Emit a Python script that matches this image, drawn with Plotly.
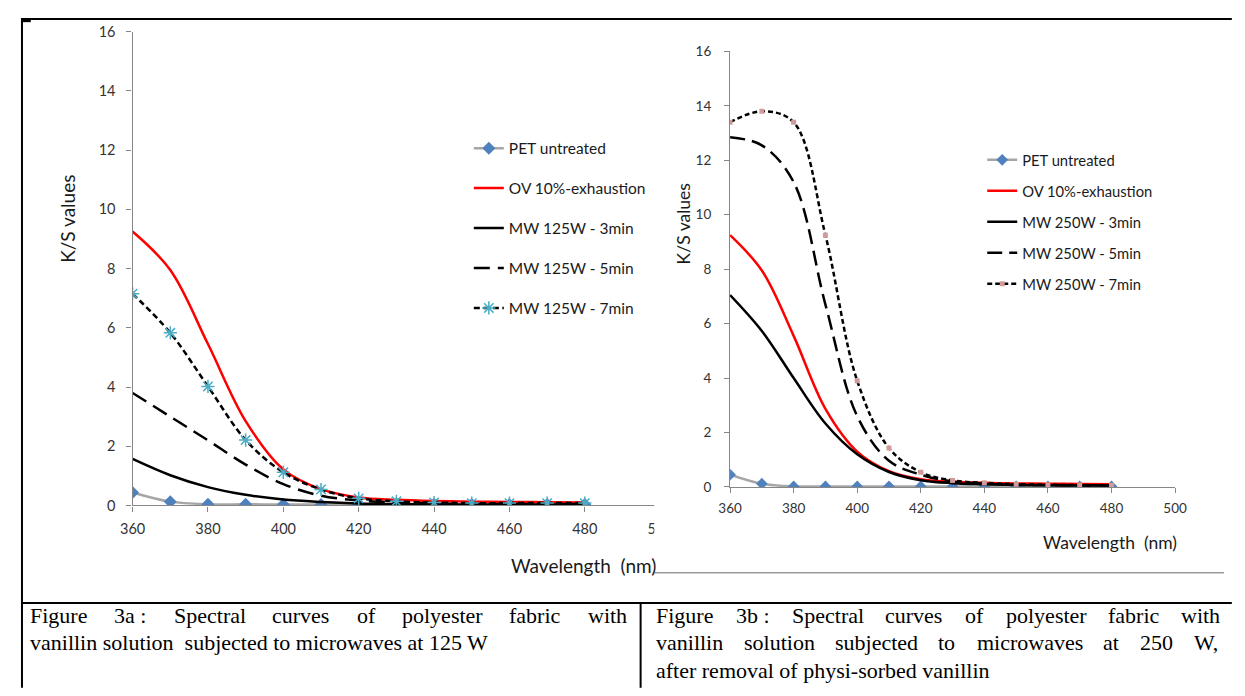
import plotly.graph_objects as go

# ---------------- data ----------------
wavelength = [360, 370, 380, 390, 400, 410, 420, 430, 440, 450, 460, 470, 480]

# Figure 3a : 125 W
pet_untreated_a = [0.44, 0.13, 0.04, 0.04, 0.03, 0.03, 0.03, 0.03, 0.03, 0.03, 0.03, 0.03, 0.03]
ov_exhaustion_a = [9.25, 7.95, 5.45, 2.85, 1.22, 0.55, 0.27, 0.19, 0.15, 0.13, 0.12, 0.11, 0.10]
mw125_3min = [1.57, 1.02, 0.62, 0.36, 0.20, 0.12, 0.07, 0.05, 0.04, 0.03, 0.03, 0.03, 0.03]
mw125_5min = [3.80, 3.00, 2.20, 1.38, 0.72, 0.33, 0.17, 0.10, 0.07, 0.05, 0.05, 0.05, 0.05]
mw125_7min = [7.15, 5.83, 4.02, 2.21, 1.12, 0.54, 0.24, 0.14, 0.10, 0.08, 0.08, 0.08, 0.08]

# Figure 3b : 250 W
pet_untreated_b = [0.45, 0.12, 0.02, 0.02, 0.02, 0.02, 0.02, 0.02, 0.02, 0.02, 0.02, 0.02, 0.02]
ov_exhaustion_b = [9.25, 7.95, 5.55, 2.87, 1.30, 0.58, 0.28, 0.19, 0.15, 0.13, 0.12, 0.11, 0.10]
mw250_3min = [7.05, 5.73, 4.00, 2.33, 1.20, 0.55, 0.25, 0.14, 0.10, 0.07, 0.06, 0.05, 0.05]
mw250_5min = [12.85, 12.55, 11.20, 6.70, 2.60, 0.96, 0.45, 0.20, 0.12, 0.08, 0.07, 0.06, 0.05]
mw250_7min = [13.40, 13.80, 13.40, 9.25, 3.90, 1.43, 0.54, 0.24, 0.15, 0.10, 0.08, 0.07, 0.06]

names_a = ["PET untreated", "OV 10%-exhaustion", "MW 125W - 3min", "MW 125W - 5min", "MW 125W - 7min"]
names_b = ["PET untreated", "OV 10%-exhaustion", "MW 250W - 3min", "MW 250W - 5min", "MW 250W - 7min"]
x_ticks = [360, 380, 400, 420, 440, 460, 480, 500]
y_ticks = [0, 2, 4, 6, 8, 10, 12, 14, 16]

caption_a = ["Figure 3a : Spectral curves of polyester fabric with",
             "vanillin solution\u00a0 subjected to microwaves at 125 W"]
caption_b = ["Figure 3b : Spectral curves of polyester fabric with",
             "vanillin solution subjected to microwaves at 250 W,",
             "after removal of physi-sorbed vanillin"]

# ---------------- helpers ----------------
# the page body keeps its default 8px margin, so the figure is 16px smaller
PAGE_W, PAGE_H, OFF = 1245, 696, 8
FW, FH = PAGE_W - 2 * OFF, PAGE_H - 2 * OFF


def px(x):
    return (x - OFF) / FW


def py(y):
    return 1 - (y - OFF) / FH


CHART_FONT = "Lato"
SERIF = "Liberation Serif"

fig = go.Figure()


def add_chart(xa, ya, lg, ys, names, dsize, d5, d7, marker7):
    pet, ov, m3, m5, m7 = ys
    common = dict(x=wavelength, xaxis=xa, yaxis=ya, legend=lg, line_shape="spline")
    fig.add_trace(go.Scatter(y=pet, name=names[0], mode="lines+markers", legendgroup=lg + "0",
                             line=dict(color="#A6A6A6", width=2.5),
                             marker=dict(symbol="diamond", size=dsize, color="#4F81BD"), **common))
    fig.add_trace(go.Scatter(y=ov, name=names[1], mode="lines", legendgroup=lg + "1",
                             line=dict(color="#FF0000", width=2.5), **common))
    fig.add_trace(go.Scatter(y=m3, name=names[2], mode="lines", legendgroup=lg + "2",
                             line=dict(color="#000000", width=2.5), **common))
    fig.add_trace(go.Scatter(y=m5, name=names[3], mode="lines", legendgroup=lg + "3",
                             line=dict(color="#000000", width=2.5, dash=d5), **common))
    fig.add_trace(go.Scatter(y=m7, name=names[4], mode="lines+markers", legendgroup=lg + "4",
                             line=dict(color="#000000", width=2.5, dash=d7),
                             marker=marker7, **common))


add_chart("x", "y", "legend",
          [pet_untreated_a, ov_exhaustion_a, mw125_3min, mw125_5min, mw125_7min],
          names_a, 10, "16px,8px", "6px,3.5px",
          dict(symbol="asterisk-open", size=11, color="#4BACC6", line=dict(color="#4BACC6", width=1.5)))
add_chart("x2", "y2", "legend2",
          [pet_untreated_b, ov_exhaustion_b, mw250_3min, mw250_5min, mw250_7min],
          names_b, 9, "15px,7px", "5px,3px",
          dict(symbol="square", size=5, color="#D29B9B"))

axis_style = dict(showline=True, linecolor="#868686", linewidth=1.3, ticks="outside",
                  tickcolor="#868686", ticklen=5, showgrid=False, zeroline=False,
                  fixedrange=True)

fig.update_layout(
    width=FW, height=FH,
    margin=dict(l=0, r=0, t=0, b=0),
    paper_bgcolor="white", plot_bgcolor="rgba(0,0,0,0)",
    showlegend=True,
    xaxis=dict(domain=[px(122), px(661)], range=[360, 500], anchor="y", tickvals=x_ticks,
               tickfont=dict(family=CHART_FONT, size=14.5, color="#333333"),
               ticklabelstandoff=5, **axis_style),
    yaxis=dict(domain=[py(509), py(23)], range=[0, 16], anchor="x", tickvals=y_ticks,
               tickfont=dict(family=CHART_FONT, size=14.5, color="#333333"),
               ticklabelstandoff=8, **axis_style),
    xaxis2=dict(domain=[px(732.4), px(1187)], range=[360, 500], anchor="y2", tickvals=x_ticks,
                tickfont=dict(family=CHART_FONT, size=13.5, color="#333333"),
                ticklabelstandoff=4, **axis_style),
    yaxis2=dict(domain=[py(490), py(43.3)], range=[0, 16], anchor="x2", tickvals=y_ticks,
                tickfont=dict(family=CHART_FONT, size=13.5, color="#333333"),
                ticklabelstandoff=10, **axis_style),
    legend=dict(x=px(465.5), y=py(125.5), xanchor="left", yanchor="top",
                bgcolor="rgba(0,0,0,0)", borderwidth=0, traceorder="grouped",
                tracegroupgap=16.8, font=dict(family=CHART_FONT, size=15.5, color="#1a1a1a")),
    legend2=dict(x=px(990), y=py(138), xanchor="left", yanchor="top",
                 bgcolor="rgba(0,0,0,0)", borderwidth=0, traceorder="grouped",
                 tracegroupgap=8.8, font=dict(family=CHART_FONT, size=14.75, color="#1a1a1a")),
)

# axis titles
title_font_a = dict(family=CHART_FONT, size=19, color="#1a1a1a")
title_font_b = dict(family=CHART_FONT, size=17.5, color="#1a1a1a")
fig.add_annotation(x=px(56), y=py(215), xref="paper", yref="paper", text="K/S values",
                   textangle=-90, xanchor="center", yanchor="middle", showarrow=False,
                   font=title_font_a)
fig.add_annotation(x=px(659), y=py(571), xref="paper", yref="paper", text="Wavelength\u00a0 (nm)",
                   xanchor="right", yanchor="middle", showarrow=False, font=title_font_a)
fig.add_annotation(x=px(685), y=py(220), xref="paper", yref="paper", text="K/S values",
                   textangle=-90, xanchor="center", yanchor="middle", showarrow=False,
                   font=title_font_b)
fig.add_annotation(x=px(1121), y=py(547), xref="paper", yref="paper", text="Wavelength\u00a0 (nm)",
                   xanchor="center", yanchor="middle", showarrow=False, font=title_font_b)

# ---------------- frame / table lines ----------------
shapes = []
# the right picture overlaps the end of the left one
shapes.append(dict(type="rect", xref="paper", yref="paper", x0=px(655), x1=px(697),
                   y0=py(577), y1=py(12), fillcolor="white", line=dict(width=0), layer="above"))
shapes.append(dict(type="line", xref="paper", yref="paper", x0=px(655), x1=1,
                   y0=py(578), y1=py(578), line=dict(color="#9A9A9A", width=1.5), layer="above"))
for (x0, y0, x1, y1) in [(8, 10, PAGE_W, 10), (9, 9, 9, PAGE_H), (8, 609, PAGE_W, 609),
                         (641, 609, 641, PAGE_H)]:
    shapes.append(dict(type="line", xref="paper", yref="paper", x0=px(x0), x1=px(x1),
                       y0=py(y0), y1=py(y1), line=dict(color="black", width=2), layer="above"))
shapes.append(dict(type="line", xref="paper", yref="paper", x0=px(8), x1=px(18),
                   y0=py(11.5), y1=py(11.5), line=dict(color="black", width=3.5), layer="above"))
fig.update_layout(shapes=shapes)

# ---------------- captions (justified Times text) ----------------
TNR = {" ": 250, ",": 250, "-": 333, ":": 278, "\u00a0": 250,
       "0": 500, "1": 500, "2": 500, "3": 500, "4": 500, "5": 500,
       "F": 556, "S": 556, "W": 944,
       "a": 444, "b": 500, "c": 444, "d": 500, "e": 444, "f": 333, "g": 500, "h": 500,
       "i": 278, "j": 278, "l": 278, "m": 778, "n": 500, "o": 500, "p": 500, "r": 333,
       "s": 389, "t": 278, "u": 500, "v": 500, "w": 722, "y": 500}
CAP_FS = 22


def tw(s):
    return sum(TNR.get(c, 500) for c in s) / 1000 * CAP_FS


def caption_line(text, x0, x1, yc, justify):
    font = dict(family=SERIF, size=CAP_FS, color="black")
    if not justify:
        fig.add_annotation(x=px(x0), y=py(yc), xref="paper", yref="paper", text=text,
                           xanchor="left", yanchor="middle", showarrow=False, borderpad=0, font=font)
        return
    words = text.replace(" :", "\u00a0:").split(" ")
    widths = [tw(w) for w in words]
    gap = (x1 - x0 - sum(widths)) / (len(words) - 1)
    x = x0
    for w, wd in zip(words, widths):
        fig.add_annotation(x=px(x), y=py(yc), xref="paper", yref="paper", text=w,
                           xanchor="left", yanchor="middle", showarrow=False, borderpad=0, font=font)
        x += wd + gap


line_y = [621.5, 650, 678.5]
caption_line(caption_a[0], 16, 625, line_y[0], True)
caption_line(caption_a[1], 16, 625, line_y[1], False)
caption_line(caption_b[0], 656, 1231, line_y[0], True)
caption_line(caption_b[1], 656, 1232, line_y[1], True)
caption_line(caption_b[2], 656, 1232, line_y[2], False)

fig.write_html("out.html", config={"displayModeBar": False})
